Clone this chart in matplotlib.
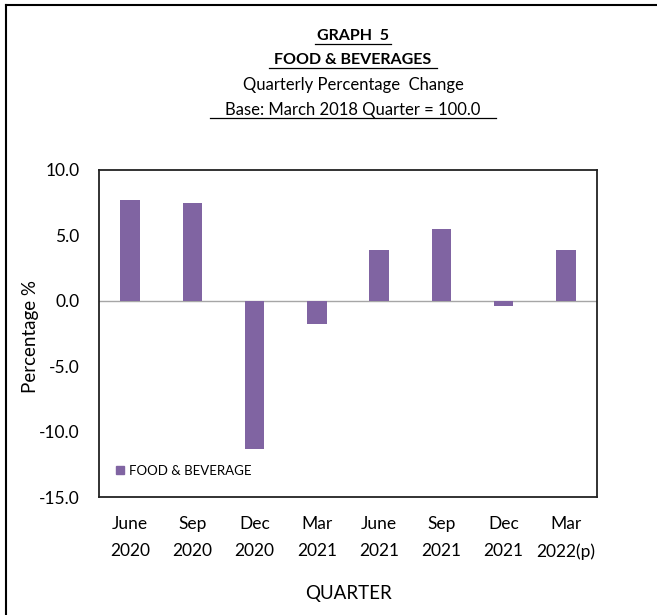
import matplotlib.pyplot as plt
from matplotlib.lines import Line2D
from matplotlib.patches import Patch

quarters = ["June\n2020", "Sep\n2020", "Dec\n2020", "Mar\n2021",
            "June\n2021", "Sep\n2021", "Dec\n2021", "Mar\n2022(p)"]
pct_change = [7.7, 7.5, -11.3, -1.8, 3.9, 5.5, -0.4, 3.9]
y_ticks = [-15.0, -10.0, -5.0, 0.0, 5.0, 10.0]

bar_color = "#8064A2"
plt.rcParams['font.family'] = ['Lato', 'DejaVu Sans']

fig = plt.figure(figsize=(6.57, 6.15), dpi=100)
ax = fig.add_axes([99 / 657, 118 / 615, 498 / 657, 327 / 615])

x = list(range(len(quarters)))
ax.bar(x, pct_change, width=0.31, color=bar_color, zorder=3)
ax.axhline(0, color="#a6a6a6", linewidth=1.0, zorder=2)

ax.set_xlim(-0.5, len(quarters) - 0.5)
ax.set_ylim(-15, 10)
ax.set_yticks(y_ticks)
ax.set_yticklabels([f"{v:.1f}" for v in y_ticks], fontsize=12.5)
ax.set_xticks(x)
ax.set_xticklabels(quarters, fontsize=12.5, linespacing=1.8)
ax.tick_params(axis='both', length=0)
ax.tick_params(axis='y', pad=14)
ax.tick_params(axis='x', pad=14)
for s in ax.spines.values():
    s.set_linewidth(1.3)
    s.set_color("#222222")

ax.set_ylabel("Percentage %", fontsize=13.5)
ax.yaxis.set_label_coords(-0.12, 0.49)
ax.set_xlabel("QUARTER", fontsize=13.5, labelpad=18)

leg = ax.legend(handles=[Patch(color=bar_color, label="FOOD & BEVERAGE")],
                loc="lower left", bbox_to_anchor=(0.01, 0.025), frameon=False,
                fontsize=9.5, handlelength=0.6, handleheight=0.6,
                handletextpad=0.4)

# titles
cx = 353 / 657
fig.text(cx, 1 - 36 / 615, "GRAPH  5", ha="center", va="center",
         fontsize=11.5, fontweight="bold")
fig.text(cx, 1 - 60 / 615, "FOOD & BEVERAGES", ha="center", va="center",
         fontsize=11.5, fontweight="bold")
fig.text(cx, 1 - 85 / 615, "Quarterly Percentage  Change", ha="center",
         va="center", fontsize=12)
fig.text(cx, 1 - 110 / 615, "Base: March 2018 Quarter = 100.0", ha="center",
         va="center", fontsize=12)

# underlines
for y, half in [(44, 38), (68, 84), (118, 143)]:
    fig.add_artist(Line2D([cx - half / 657, cx + half / 657],
                          [1 - y / 615, 1 - y / 615], color="black",
                          linewidth=0.9))

# outer border (left and top only, as in the crop)
fig.add_artist(Line2D([6 / 657, 6 / 657], [0, 1 - 5 / 615], color="black",
                      linewidth=1.5))
fig.add_artist(Line2D([6 / 657, 1], [1 - 5 / 615, 1 - 5 / 615],
                      color="black", linewidth=1.5))

fig.savefig("out.png", dpi=100)
